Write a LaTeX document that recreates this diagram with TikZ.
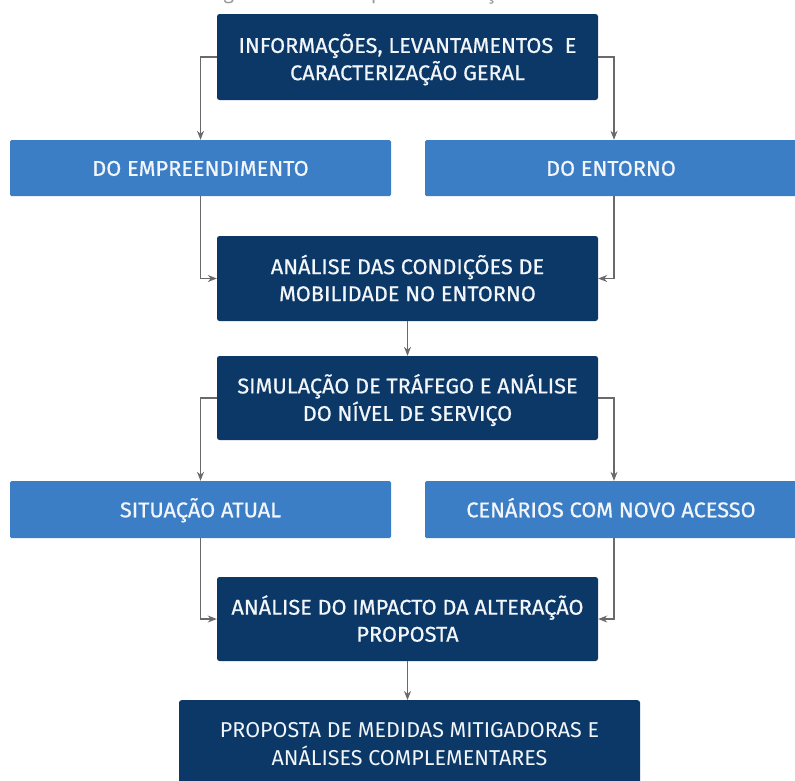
\documentclass[tikz,border=0pt]{standalone}
\usepackage{fontspec}
\setmainfont{Fira Sans}
\newfontfamily\boxfont[FakeBold=0.7,FakeStretch=1.02]{Fira Sans}
\usetikzlibrary{arrows.meta}
\definecolor{navy}{HTML}{0B3866}
\definecolor{lightblue}{HTML}{3C7EC6}
\definecolor{conngray}{HTML}{6A6A6A}
\definecolor{txtlight}{HTML}{F2F6FB}
\newcommand{\twolines}[2]{\raisebox{-3.5pt}[\height][\depth]{\begin{tabular}{@{}c@{}}#1\\#2\end{tabular}}}
\tikzset{
  darkbox/.style={draw=none, fill=navy, rounded corners=2.5pt, minimum width=381pt,
    text=txtlight, align=center, font=\boxfont\fontsize{21.3}{27}\selectfont, inner sep=0pt},
  lightbox/.style={draw=none, fill=lightblue, rounded corners=1.5pt,
    text=txtlight, align=center, font=\boxfont\fontsize{21.3}{27}\selectfont, inner sep=0pt,
    text height=18.5pt, text depth=3pt},
  conn/.style={draw=conngray, line width=1.2pt, -{Stealth[length=9pt,width=7pt]}},
}
\begin{document}
\begin{tikzpicture}[x=1pt,y=-1pt]
\useasboundingbox (0,0) rectangle (795,780);
% caption (clipped at top in reference)
\node[anchor=base, font=\fontsize{20}{24}\selectfont, text=gray!80] (cap) at (414,-1) {Figura 5 – Roteiro para elaboração do estudo.};
% boxes
\node[darkbox, minimum height=86pt] (top) at (407.5,57) {\raisebox{-0.5pt}[\height][\depth]{\twolines{INFORMAÇÕES, LEVANTAMENTOS~ E}{CARACTERIZAÇÃO GERAL}}};
\node[lightbox, minimum width=381pt, minimum height=56pt] (emp) at (200.5,168) {DO EMPREENDIMENTO};
\node[lightbox, minimum width=372pt, minimum height=56pt] (ent) at (611,168) {DO ENTORNO};
\node[darkbox, minimum height=85pt] (cond) at (407.5,278.5) {\twolines{ANÁLISE DAS CONDIÇÕES DE}{MOBILIDADE NO ENTORNO}};
\node[darkbox, minimum height=84pt] (sim) at (407.5,398) {\twolines{SIMULAÇÃO DE TRÁFEGO E ANÁLISE}{DO NÍVEL DE SERVIÇO}};
\node[lightbox, minimum width=381pt, minimum height=57pt] (sit) at (200.5,509.5) {SITUAÇÃO ATUAL};
\node[lightbox, minimum width=372pt, minimum height=57pt] (cen) at (611,509.5) {CENÁRIOS COM NOVO ACESSO};
\node[darkbox, minimum height=84pt] (imp) at (407.5,619) {\twolines{ANÁLISE DO IMPACTO DA ALTERAÇÃO}{PROPOSTA}};
\node[darkbox, minimum width=461pt, minimum height=110pt, anchor=north] (prop) at (409.5,700) {};
\node[text=txtlight, align=center, font=\fontsize{21.5}{28}\selectfont, inner sep=0pt] (proptxt) at (409.5,744) {PROPOSTA DE MEDIDAS MITIGADORAS E\\ANÁLISES COMPLEMENTARES};
% connectors
\coordinate (rx1) at (614,168);
\coordinate (rx2) at (614,509.5);
\draw[conn] (top.west) -| (emp.north);
\draw[conn] (top.east) -| (rx1 |- ent.north);
\draw[conn] (emp.south) |- (cond.west);
\draw[conn] (rx1 |- ent.south) |- (cond.east);
\draw[conn] (cond.south) -- (sim.north);
\draw[conn] (sim.west) -| (sit.north);
\draw[conn] (sim.east) -| (rx2 |- cen.north);
\draw[conn] (sit.south) |- (imp.west);
\draw[conn] (rx2 |- cen.south) |- (imp.east);
\draw[conn] (imp.south) -- (imp.south |- prop.north);
\end{tikzpicture}
\end{document}
